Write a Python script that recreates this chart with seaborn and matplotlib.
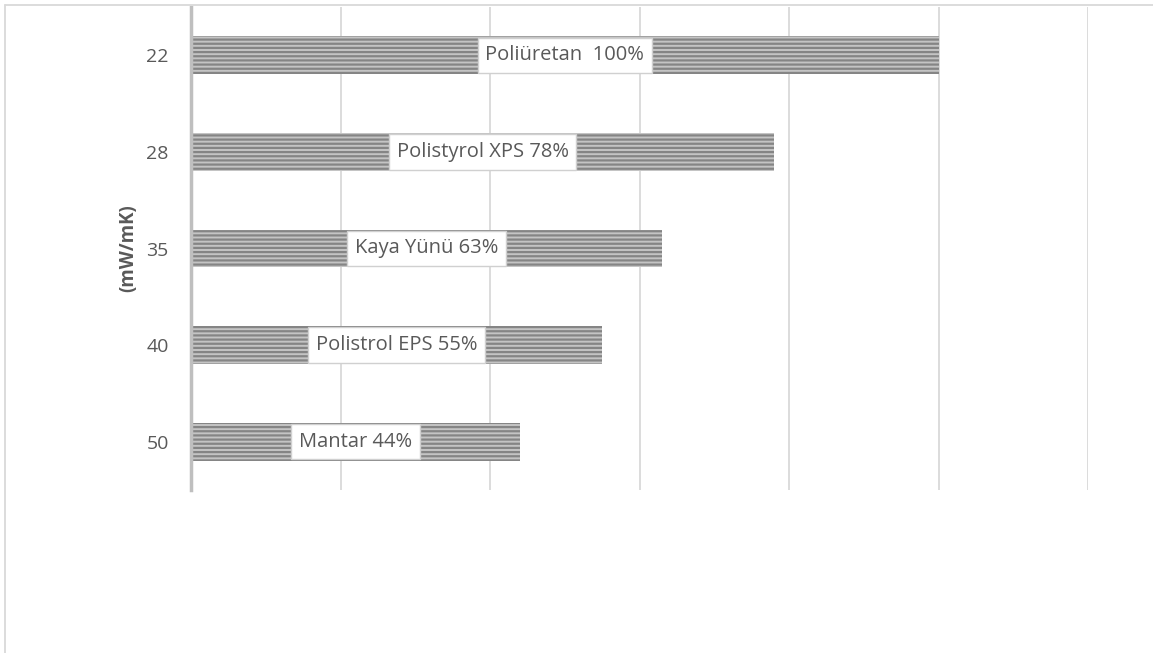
import matplotlib
matplotlib.use('Agg')
import matplotlib.pyplot as plt
import seaborn as sns
import pandas as pd
from matplotlib.lines import Line2D

# Data
conductivity = ['22', '28', '35', '40', '50']
materials = ['Poliüretan ', 'Polistyrol XPS', 'Kaya Yünü', 'Polistrol EPS', 'Mantar']
percent = [100, 78, 63, 55, 44]

df = pd.DataFrame({'k': conductivity, 'pct': percent, 'name': materials})

sns.set_theme(style='white')
plt.rcParams['font.family'] = ['Open Sans', 'DejaVu Sans']
plt.rcParams['hatch.linewidth'] = 1.6

fig = plt.figure(figsize=(11.53, 6.53), dpi=100)
ax = fig.add_axes([191 / 1153, 1 - 490 / 653, (1088 - 191) / 1153, (490 - 7) / 653])

sns.barplot(data=df, x='pct', y='k', orient='h', ax=ax, width=0.39,
            color='#c4c4c4', edgecolor='#858585', linewidth=0, hatch='----')

# labels in the middle of each bar
for i, row in df.iterrows():
    ax.text(row['pct'] / 2, i, f"{row['name']} {row['pct']}%", ha='center', va='center',
            fontsize=14.5, color='#595959',
            bbox=dict(boxstyle='square,pad=0.38', facecolor='white', edgecolor='#d0d0d0', linewidth=1))

ax.set_xlim(0, 120)
ax.set_ylim(4.5, -0.5)
ax.set_xticks([0, 20, 40, 60, 80, 100, 120])
ax.xaxis.grid(True, color='#d9d9d9', linewidth=1.3)
ax.set_axisbelow(True)
ax.tick_params(axis='x', labelbottom=False, length=0)
ax.tick_params(axis='y', length=0, pad=16, labelsize=14, labelcolor='#595959')
ax.set_xlabel('')
ax.set_ylabel('(mW/mK)', fontsize=13.5, fontweight='bold', color='#595959', labelpad=6)

for s in ['top', 'right', 'bottom']:
    ax.spines[s].set_visible(False)
ax.spines['left'].set_color('#bfbfbf')
ax.spines['left'].set_linewidth(2.5)

# chart outer border (cropped)
fig.add_artist(Line2D([5 / 1153, 1], [1 - 5 / 653, 1 - 5 / 653], color='#d9d9d9', lw=1.3, transform=fig.transFigure))
fig.add_artist(Line2D([5 / 1153, 5 / 1153], [0, 1 - 5 / 653], color='#d9d9d9', lw=1.3, transform=fig.transFigure))

fig.savefig('out.png', dpi=100)
